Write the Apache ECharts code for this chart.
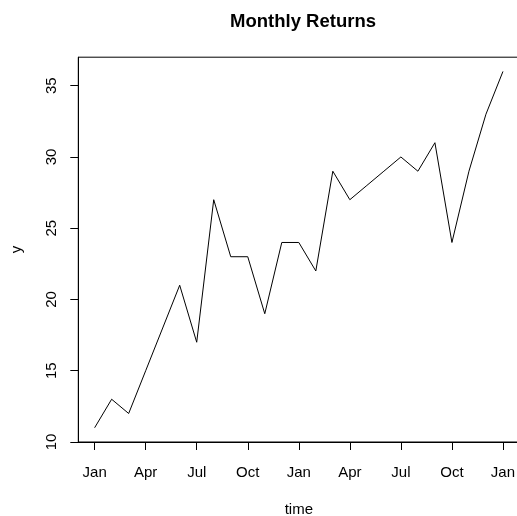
<!DOCTYPE html>
<html>
<head>
<meta charset="utf-8">
<script src="https://cdn.jsdelivr.net/npm/echarts@6/dist/echarts.min.js"></script>
<style>
html,body{margin:0;padding:0;background:#fff;}
#chart{width:517px;height:516px;}
</style>
</head>
<body>
<div id="chart"></div>
<script>
// Monthly index from Jan (year 1) = 0 to Jan (year 3) = 24
var months = [0,1,2,3,4,5,6,7,8,9,10,11,12,13,14,15,16,17,18,19,20,21,22,23,24];
var values = [11,13,12,15,18,21,17,27,23,23,19,24,24,22,29,27,28,29,30,29,31,24,29,33,36];
var xTickPositions = [0,3,6,9,12,15,18,21,24];
var xTickLabels = ["Jan","Apr","Jul","Oct","Jan","Apr","Jul","Oct","Jan"];
var yTicks = [10,15,20,25,30,35];

var FONT = "Liberation Sans, Arial, Helvetica, sans-serif";
var chart = echarts.init(document.getElementById('chart'), null, {renderer:'canvas'});
var seriesData = months.map(function(m,i){return [m, values[i]];});

chart.setOption({
  animation:false,
  backgroundColor:'#ffffff',
  title:{
    text:'Monthly Returns',
    left:298, top:7, textAlign:'center',
    textStyle:{fontFamily:FONT,fontSize:18.5,fontWeight:'bold',color:'#000'}
  },
  grid:{
    left:78.3, top:57.2, width:441, height:384.8,
    show:true, borderColor:'#000', borderWidth:1, backgroundColor:'transparent',
    containLabel:false, outerBoundsMode:'none'
  },
  xAxis:{
    type:'value', min:-0.96, max:24.96,
    name:'time', nameLocation:'middle', nameGap:60,
    nameTextStyle:{fontFamily:FONT,fontSize:15,color:'#000'},
    axisLine:{show:true,onZero:false,lineStyle:{color:'#000',width:1}},
    axisTick:{show:true,length:8,lineStyle:{color:'#000'},customValues:xTickPositions},
    axisLabel:{show:true,margin:23,fontFamily:FONT,fontSize:15,color:'#000',
      customValues:xTickPositions,
      formatter:function(v){var i=xTickPositions.indexOf(Math.round(v));return i>=0?xTickLabels[i]:'';}},
    splitLine:{show:false}
  },
  yAxis:{
    type:'value', min:10, max:37,
    name:'y', nameLocation:'middle', nameGap:54,
    nameTextStyle:{fontFamily:FONT,fontSize:15,color:'#000'},
    axisLine:{show:true,onZero:false,lineStyle:{color:'#000',width:1}},
    axisTick:{show:true,length:8,lineStyle:{color:'#000'},customValues:yTicks},
    axisLabel:{show:true,rotate:90,margin:19,fontFamily:FONT,fontSize:15,color:'#000',
      customValues:yTicks},
    splitLine:{show:false}
  },
  series:[{
    type:'line', data:seriesData, showSymbol:false, symbol:'none',
    lineStyle:{color:'#000',width:1}
  }]
});
</script>
</body>
</html>
